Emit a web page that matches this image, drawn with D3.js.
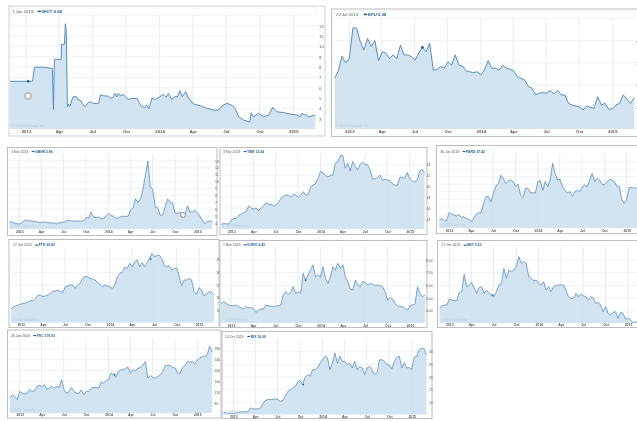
<!DOCTYPE html>
<html><head><meta charset="utf-8">
<script src="https://cdn.jsdelivr.net/npm/d3@7"></script>
<style>
html,body{margin:0;padding:0;background:#fff;overflow:hidden}
svg{display:block;filter:blur(0.35px)}
text{font-family:"Liberation Sans",Arial,sans-serif}
</style></head><body><svg id="c" width="637" height="421"></svg>
<script>
// ---- data ----
const mictDays=[-44,15,18,23,46,70,72,75,77.5,96,97,105,107.5,110,113,116,120,125,129,137,141,148,155,161,168,175,184,198,204,213,225,231,237,243,248,252,259,266,273,280,289,304,314,325,330,336,344,353,366,375,382,389,398,407,414,420,427,436,444,458,476,494,512,526,535,549,562,571,581,594,611,615,622,635,649,663,674,685,704,722,740,749,754,763,772,790];
const mictValues=[6.62,6.62,6.65,7.97,8,7.87,7.87,3.9,8.74,8.74,10.2,10.2,12.2,11.4,4.16,4.4,4.2,4.8,5.13,5.13,4.87,4.8,4.42,4.16,4.48,4.65,4.48,4.48,5.32,5.2,5.2,4.97,5.06,5.45,5.13,5.45,5.2,5.35,5.06,4.87,4.97,4.94,4.23,4.06,4.32,3.97,4.97,4.87,5.13,5.35,5.06,5.45,4.87,5.13,5.13,5.71,5.13,5.61,4.97,4.42,4.26,4,3.84,3.84,4.23,4.48,4.32,4,3.19,2.87,2.68,3.58,3.19,3.52,3.19,3.35,4.1,3.68,3.58,3.45,3.35,3.19,3.52,3.35,3.19,3.35];
const epuValues=[31.5,33.2,36.5,35,36,42.9,42.8,39.8,37.9,40.5,38.7,40,35.5,37.5,37.2,36,36.8,36,39,36.8,36.8,36.4,35.6,37.2,38.5,37.5,39.4,33.4,33.5,34.2,33.8,35.3,34.5,36.8,34.5,34.3,33.2,33,32.8,33,32.3,33.4,35.5,33.8,33.8,33.4,34.5,33.8,33.6,33.2,31.9,31.5,31.2,29.7,29.3,27.8,28.2,28.3,28.2,28.8,28,28.8,27.8,27.8,25.9,25.5,25.3,25.1,24.4,25.3,25,24.8,27.4,25.5,25.9,24.6,24.6,25.5,25.9,27.8,26.8,25.9,27.2];
const gbnkValues=[4.2,4.1,4,3.9,3.85,4,4.4,4.4,4.3,4.3,4.2,4.2,4.05,4.05,4.2,4.05,4.05,4,4,3.85,4,4.1,4.1,4.3,4.4,4.3,4.3,4.3,4.25,4.3,4.3,4.8,4.7,5.6,4.85,4.8,4.85,4.7,4.6,5,5.4,5.1,5,4.7,4.7,4.9,5,4.95,5,5.9,6.2,7.5,7,7.5,8.8,11,13,9.3,8.8,6.3,6.2,5.1,5.2,6.4,7.5,7,6.9,5.4,5.4,5.6,5.3,5.2,6.5,5.6,5.6,5.8,5.5,5,4.4,3.9,4.2,4.3,4.2];
const tbmValues=[13,13.2,13.1,13.1,13.8,14.1,14.1,14.7,14.9,15.2,15.3,16.4,16,15.8,16,15.5,16,16.4,17,16.7,16.7,16.4,16.6,17,17.8,18.1,18.4,18.4,18,18.5,18.4,18,18.4,19,18.4,18.4,19.9,20.2,20.5,21.4,22.7,22.4,22,21.7,22,22,24.2,24.5,25.6,25.6,23.3,24.2,22.8,24.5,23.6,23,24,24.3,24,23.9,23,21.4,21.3,21.6,22,21.1,21.3,21.1,21,20.5,20.2,20.2,21.6,21.7,21.4,22.5,21.4,21,20.8,21.1,22.7,23.1,22.4];
const pardValues=[20.4,20.9,20.4,20.2,22.4,22,21.8,21.5,21.8,21.2,21.3,20.9,20.7,20,20.9,22,22.4,22.4,24.9,26.7,26.7,25.3,27.6,29.5,30.2,32.4,31.6,30.2,30.9,31.1,30.7,29.3,30,27.1,26.5,28.9,28.9,27.7,27.7,27.7,30.7,30.9,28.4,30.7,29.3,31.3,35.6,32.9,31.1,31.3,29.3,28.4,27.7,28,26.8,28,28.4,28,29.3,29.8,29.3,31.1,32.9,30.7,31.6,31.1,30,29.8,30.7,31.3,31.1,30.7,29.5,29.3,26,24.9,26,29.2,29.1,29,29,29,29];
const ftkValues=[15.5,16.2,16.7,17.1,17.4,17.8,17.8,18.4,18.8,18.8,19.7,21,21,20.4,20.7,21,21.7,22.6,22.6,23,22.4,22.1,24.3,24.7,25,25,23.7,25,25.7,27.6,28.3,28.3,27.6,27.4,27,26.1,25.3,24.3,25,24.6,24.3,23.7,25,28.3,29.6,30,32,31.6,33.6,32.2,34.2,34.9,32.2,33.9,32.2,33.9,35.3,37.5,36.2,36.6,36.8,35.3,32.6,32.2,32.6,30.9,31.6,31.8,28.3,24.7,27,27,27.6,27,22.4,21.3,24,23,20.8,21.3,22.4,22.1,21.1];
const goroValues=[4.58,4.71,4.58,4.45,4.39,4.39,4.45,4.32,4.24,4.13,4.32,4.24,4.24,4.18,3.87,4.05,4.13,4.13,4.45,4.39,4.37,4.32,4.37,4.39,4.45,5.24,5.5,5.29,5.45,5.89,5.37,5.5,5.37,6.95,6.42,6.82,7.21,7.61,6.68,6.82,6.68,7.47,6.55,6.16,6.68,7.47,7.21,7.74,7.34,7.61,6.68,6.29,5.71,5.63,6.42,6.03,5.89,6.29,6.24,6.03,6.16,6.08,5.97,6.03,5.97,5.89,5.5,4.84,5.03,4.92,4.58,4.39,4.32,4.32,4.18,4.05,4.39,4.45,4.53,5.89,5.37,5.11,5.24];
const sbyValues=[3.26,3.79,3.89,3.89,4.84,4.68,4.58,4.58,5.89,6,8.74,6.79,7.05,7.47,6.63,5.74,6.63,6.79,5.74,6.26,5.74,5.47,5.21,6,7.05,7.32,9.68,8.11,9.42,9.16,9.42,9.95,11.53,10.47,10.74,10.47,8.37,8.11,7.68,7.84,7.32,7.05,7.58,6.26,6.79,6,6.79,6.95,7.05,7.05,7.05,6.26,5.21,4.95,4.95,5.74,5.21,5.58,5.37,5.21,4.68,5.21,5.05,4.16,4.32,3.89,2.84,3.63,2.58,2.32,2.74,2.84,1.79,2.74,2.58,1.68,1.79,1.53,1.16,1.16,1.53,1.79,1.79];
const fscValues=[98,110,104,92,122.5,116,114,116,129,122.5,126,141,145,141,147,131,135,141,135,141,137,165.6,129,116,122.5,137,122.5,116,116,129,110,122.5,122.5,135,137,137,135,157,153,162,166,190,184,174,196,202.5,202.5,208.6,211,190,202.5,199,208.6,211,221,233,172,181.5,174,172,178,184,196,218,218,218,211,208.6,190,190,211,218,233,229.5,233,223,239,245.5,251.7,251.7,258,288.6,267.6];
const rixValues=[5.8,6.1,5.4,5.8,5.5,5.8,6.1,6.1,6.4,6.2,6.4,7.8,7.4,7.4,7.4,7.8,9.7,10.7,11.1,11.1,11.1,11.4,11.1,10.4,10.7,12.4,14.3,15,15.7,16.3,18,18.6,17,19.9,20.9,20.3,22.9,22.9,23.6,25.5,26.8,28.2,27.5,22.9,25.5,29.5,25.5,28.2,26.2,26.2,24.9,25.5,23.6,26.2,22.9,24.2,23.6,20.9,23.6,24.2,22.9,20.9,21.6,26.8,26.8,26.2,24.9,24.6,23.3,26.2,27.8,28.2,23.6,25.5,23.6,23.8,22.9,27.8,28.2,30.8,31.4,31.2,28.8];
const mictTicks=[3,4,5,6,7,8,9,10,11,12];
const epuTicks=[25,30,35,40];
const gbnkTicks=[4,5,6,7,8,9,10,11,12,13];
const tbmTicks=[14,16,18,20,22,24];
const pardTicks=[20,22,24,26,28,30,32,34,36];
const ftkTicks=[15,20,25,30,35];
const goroTicks=[4,5,6,7,8];
const sbyTicks=[3,5,7,9,11];
const fscTicks=[80,120,160,200,240,280];
const rixTicks=[10,15,20,25,30];
const mictHeader=["7 Jan 2013:","MICT 6.68"], epuHeader=["23 Jul 2013:","EPU 2.38"], gbnkHeader=["3 Mar 2013:","GBNK 5.86"],
 tbmHeader=["3 Mar 2013:","TBM 13.34"], pardHeader=["30 Jun 2013:","PARD 27.42"], ftkHeader=["17 Jun 2014:","FTK 35.83"],
 goroHeader=["1 Nov 2013:","GORO 6.43"], sbyHeader=["27 Jun 2013:","SBY 5.23"], fscHeader=["26 Jan 2014:","FSC 179.93"], rixHeader=["14 Oct 2013:","RIX 16.99"];

// ---- layout ----
const Jan13=new Date(2013,0,1), Jan15=new Date(2015,0,1);
const quarters=d3.timeMonth.every(3).range(Jan13,d3.timeDay.offset(Jan15,1));
const gridDate=i=>new Date(Jan13.getTime()+(i-4)*10.14*864e5);
const dayDate=d=>new Date(Jan13.getTime()+d*864e5);
const tickFmt=d=>d.getMonth()===0?d3.timeFormat("%Y")(d):d3.timeFormat("%b")(d);
const panels=[
 {f:[9,6,316,130],p:[10,15,316,129],xt:[26,293.3],y1:[12,25.7],y2:[3,118.7],vals:mictValues,days:mictDays,ticks:mictTicks,head:mictHeader,mark:new Date(2013,0,7),fs:4.3,lx:319,fmt:d3.format("d")},
 {f:[331.5,9,320,127.5],p:[334,18,635,129],xt:[349.3,612.3],y1:[40,40.7],y2:[25,107.3],vals:epuValues,ticks:epuTicks,head:epuHeader,mark:new Date(2013,6,23),fs:4.3,lx:636,fmt:d3.format("d")},
 {f:[7.5,147.5,209.5,88],p:[9,154,213,229.3],xt:[19.3,197.3],y1:[13,161],y2:[4,223],vals:gbnkValues,ticks:gbnkTicks,head:gbnkHeader,fs:3.4,lx:215,fmt:d3.format("d")},
 {f:[220,147.5,207,87],p:[221,154,425,229.3],xt:[231.3,409.7],y1:[24,164.3],y2:[14,219],vals:tbmValues,ticks:tbmTicks,head:tbmHeader,fs:3.4,lx:426.5,fmt:d3.format("d")},
 {f:[436.5,145.5,215,88],p:[438.3,154,642,228.3],xt:[449,626.7],y1:[36,161.7],y2:[20,221.7],vals:pardValues,ticks:pardTicks,head:pardHeader,fs:3.4,lx:null,fmt:d3.format("d")},
 {f:[9,239.5,210,88],p:[11,247.7,215,322.7],xt:[20.7,199],y1:[35,259.7],y2:[15,310.3],vals:ftkValues,ticks:ftkTicks,head:ftkHeader,mark:new Date(2014,5,17),fs:3.4,lx:216.5,fmt:d3.format("d")},
 {f:[220,240.5,207,87],p:[221,247.3,425.7,323.3],xt:[231,410],y1:[8,260],y2:[4,310.7],vals:goroValues,ticks:goroTicks,head:goroHeader,mark:new Date(2013,10,1),fs:3.4,lx:426,fmt:d3.format(".2f")},
 {f:[437.5,240.5,215,87],p:[439.3,247.7,643,323],xt:[449.3,628],y1:[11,260],y2:[3,310.7],vals:sbyValues,ticks:sbyTicks,head:sbyHeader,mark:new Date(2013,5,27),fs:3.4,lx:null,fmt:d3.format("d")},
 {f:[7.5,330,213.5,88],p:[9,338,213,413],xt:[19.7,197.3],y1:[280,348.7],y2:[80,403],vals:fscValues,ticks:fscTicks,head:fscHeader,mark:new Date(2014,0,26),fs:3.4,lx:214.5,fmt:d3.format("d")},
 {f:[222,331.5,210,87],p:[223,339,428,414.7],xt:[233.3,411.7],y1:[30,351.7],y2:[10,402.3],vals:rixValues,ticks:rixTicks,head:rixHeader,mark:new Date(2013,9,14),fs:3.4,lx:429,fmt:d3.format("d")}
];
const lineCol="#4a82b4",fillCol="#d2e4f1",gridCol="#e9eff5",txt="#555",navy="#1f5a93";
const svg=d3.select("#c");
svg.append("rect").attr("width",637).attr("height",421).attr("fill","#fff");
const defs=svg.append("defs");

panels.forEach((P,n)=>{
  const [l,t,r,b]=P.p;
  const g=svg.append("g");
  g.append("rect").attr("x",P.f[0]).attr("y",P.f[1]).attr("width",P.f[2]).attr("height",P.f[3]).attr("fill","#fff").attr("stroke","#bdbdbd").attr("stroke-width",n===0?0.7:1);
  const x=d3.scaleTime().domain([Jan13,Jan15]).range(P.xt);
  const y=d3.scaleLinear().domain([P.y1[0],P.y2[0]]).range([P.y1[1],P.y2[1]]);
  const pts=P.vals.map((v,i)=>({d:P.days?dayDate(P.days[i]):gridDate(i),v}));
  // grid
  const gg=g.append("g");
  gg.selectAll(".v").data(quarters).join("line").attr("x1",d=>x(d)).attr("x2",d=>x(d)).attr("y1",t).attr("y2",b).attr("stroke",gridCol).attr("stroke-width",0.9);
  gg.selectAll(".h").data(P.ticks).join("line").attr("x1",l).attr("x2",r).attr("y1",d=>y(d)).attr("y2",d=>y(d)).attr("stroke",gridCol).attr("stroke-width",0.8);
  // area + line
  const id="clip"+n;
  defs.append("clipPath").attr("id",id).append("rect").attr("x",l).attr("y",t).attr("width",r-l).attr("height",b-t);
  const m=g.append("g").attr("clip-path",`url(#${id})`);
  m.append("path").datum(pts).attr("fill",fillCol)
    .attr("d",d3.area().x(d=>x(d.d)).y0(b).y1(d=>y(d.v)));
  m.selectAll(".vv").data(quarters).join("line").attr("x1",d=>x(d)).attr("x2",d=>x(d)).attr("y1",t).attr("y2",b).attr("stroke","#c9dcea").attr("stroke-width",0.6).attr("opacity",0.25);
  m.append("path").datum(pts).attr("fill","none").attr("stroke",lineCol).attr("stroke-width",n<2?0.9:0.7)
    .attr("stroke-linejoin","round").attr("d",d3.line().x(d=>x(d.d)).y(d=>y(d.v)));
  if(P.mark){
    const i=d3.bisector(d=>d.d).center(pts,P.mark);
    m.append("circle").attr("cx",x(P.mark)).attr("cy",y(pts[i].v)).attr("r",n<2?1.3:0.9).attr("fill",navy);
  }
  g.append("text").attr("x",l+2).attr("y",b-2).attr("font-size",P.fs-0.3).attr("fill","#b4c9da").text("© 2013 Yahoo! Inc.");
  const ax=g.append("g").attr("transform",`translate(0,${b})`).call(d3.axisBottom(x).tickValues(quarters).tickFormat(tickFmt).tickSize(0).tickPadding(1));
  ax.select(".domain").remove();
  ax.selectAll("text").attr("font-size",P.fs).attr("font-weight","bold").attr("fill",txt).attr("font-family",'"Liberation Sans",Arial,sans-serif');
  if(P.lx!==null){
    const ay=g.append("g").attr("transform",`translate(${P.lx},0)`).call(d3.axisRight(y).tickValues(P.ticks).tickFormat(P.fmt).tickSize(0).tickPadding(0));
    ay.select(".domain").remove();
    ay.selectAll("text").attr("font-size",P.fs).attr("fill",txt).attr("font-family",'"Liberation Sans",Arial,sans-serif');
  }
  const hy=t-(n<2?2.2:1.4);
  if(n<2) g.append("rect").attr("x",l).attr("y",t-7).attr("width",r-l).attr("height",7).attr("fill","#fff").attr("stroke","#e4e4e4").attr("stroke-width",0.5);
  g.append("text").attr("x",l+2).attr("y",hy).attr("font-size",P.fs).attr("fill",txt).text(P.head[0]);
  const hx=l+2+P.fs*(P.head[0].length*0.5)+2;
  g.append("rect").attr("x",hx).attr("y",hy-P.fs*0.5).attr("width",P.fs*0.8).attr("height",P.fs*0.35).attr("fill",navy);
  g.append("text").attr("x",hx+P.fs).attr("y",hy).attr("font-size",P.fs).attr("font-weight","bold").attr("fill",navy).text(P.head[1]);
});
// mouse-pointer smudges seen in two of the screenshots
[[28,96,3.2],[183,215,2.4]].forEach(([cx,cy,rr])=>{
  svg.append("circle").attr("cx",cx).attr("cy",cy).attr("r",rr).attr("fill","#fff").attr("stroke","#777").attr("stroke-width",0.8);
});
</script></body></html>
